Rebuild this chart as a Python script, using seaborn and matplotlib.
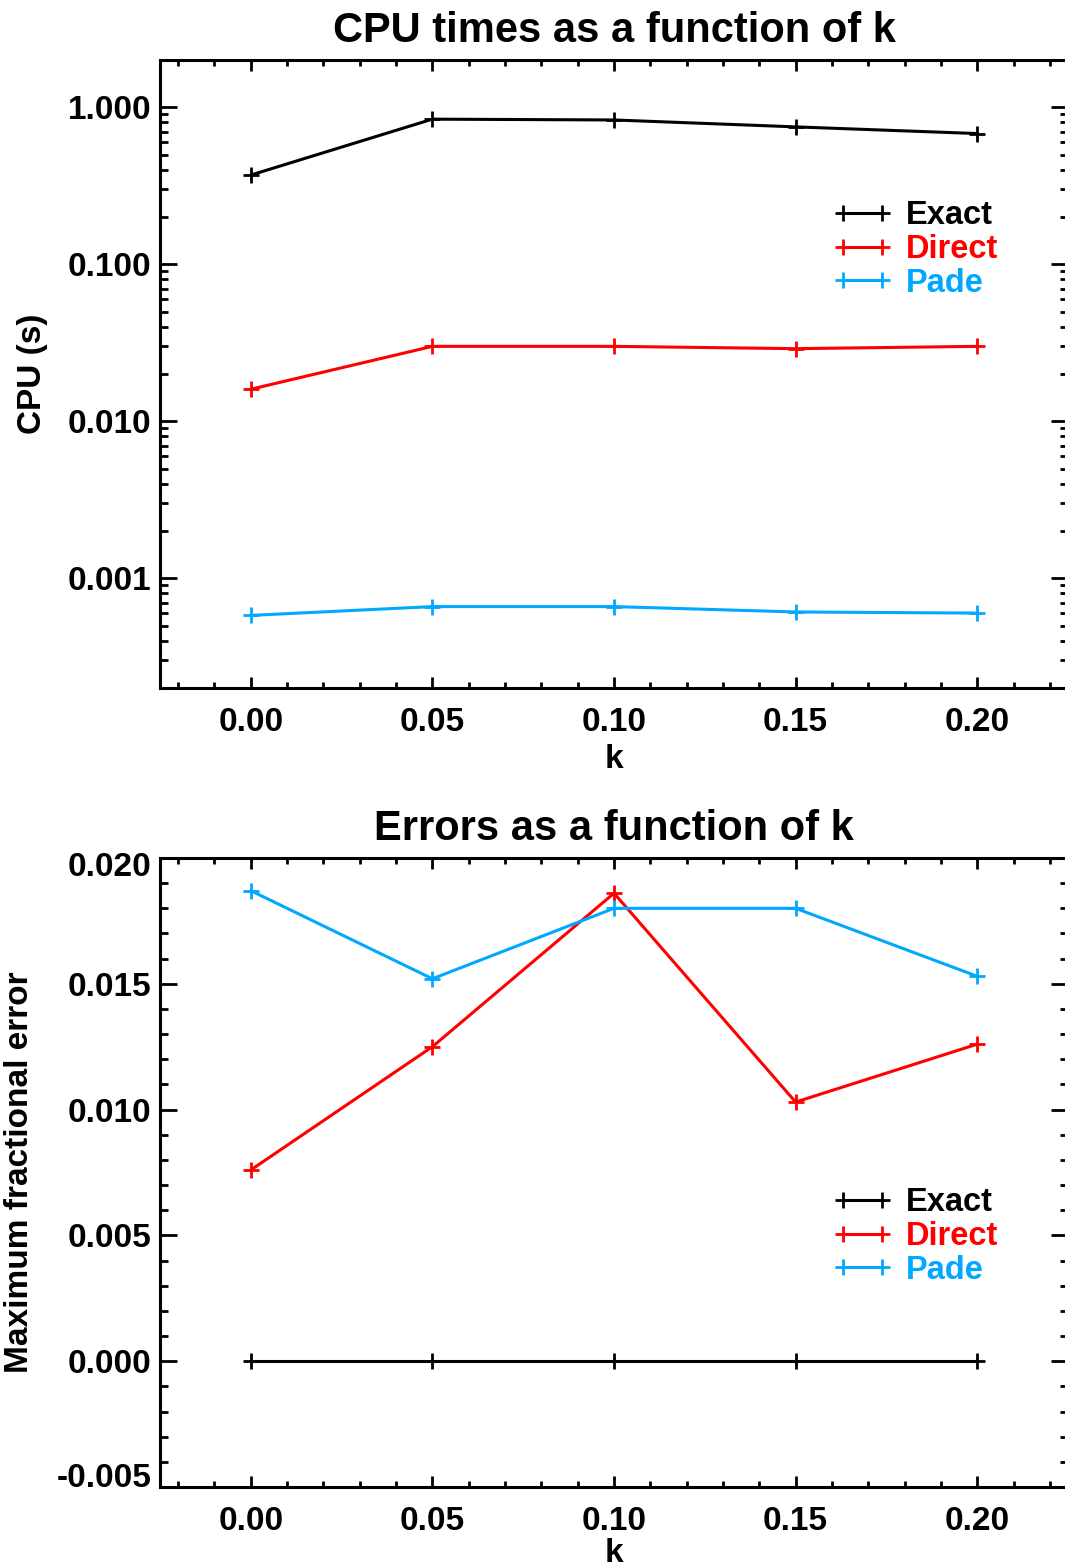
import numpy as np
import pandas as pd
import matplotlib
matplotlib.use("Agg")
import matplotlib.pyplot as plt
import seaborn as sns
from matplotlib.ticker import FixedLocator, FixedFormatter, MultipleLocator, LogLocator, NullFormatter
from matplotlib.transforms import ScaledTranslation

k = [0.00, 0.05, 0.10, 0.15, 0.20]
methods = ["Exact", "Direct", "Pade"]
cpu_exact = [0.37, 0.84, 0.83, 0.75, 0.68]
cpu_direct = [0.016, 0.030, 0.030, 0.029, 0.030]
cpu_pade = [0.00058, 0.00066, 0.00066, 0.00061, 0.00060]
err_exact = [0.0, 0.0, 0.0, 0.0, 0.0]
err_direct = [0.0076, 0.0125, 0.0186, 0.0103, 0.0126]
err_pade = [0.0187, 0.0152, 0.0180, 0.0180, 0.0153]
cpu_ticks = [0.001, 0.01, 0.1, 1.0]
cpu_ticklabels = ["0.001", "0.010", "0.100", "1.000"]
err_ticks = [-0.005, 0.0, 0.005, 0.010, 0.015, 0.020]
err_ticklabels = ["-0.005", "0.000", "0.005", "0.010", "0.015", "0.020"]
k_ticks = [0.00, 0.05, 0.10, 0.15, 0.20]
k_ticklabels = ["0.00", "0.05", "0.10", "0.15", "0.20"]

colors = {"Exact": "#000000", "Direct": "#FF0000", "Pade": "#00A8FF"}

cpu_df = pd.DataFrame({
    "k": k * 3,
    "value": cpu_exact + cpu_direct + cpu_pade,
    "method": [m for m in methods for _ in k],
})
err_df = pd.DataFrame({
    "k": k * 3,
    "value": err_exact + err_direct + err_pade,
    "method": [m for m in methods for _ in k],
})

sns.set_theme(style="white")
plt.rcParams["font.family"] = ["Liberation Sans", "DejaVu Sans"]
plt.rcParams["font.weight"] = "bold"
plt.rcParams["text.color"] = "black"
plt.rcParams["axes.labelcolor"] = "black"

W, H = 1065, 1566
fig = plt.figure(figsize=(W / 100, H / 100), dpi=100)

def frac(left, top, right, bottom):
    return [left / W, 1 - bottom / H, (right - left) / W, (bottom - top) / H]

ax1 = fig.add_axes(frac(160, 60, 1068, 688))
ax2 = fig.add_axes(frac(160, 858, 1068, 1487))

FS = 24
TFS = 30
LFS = 23.5

def style(ax):
    for s in ax.spines.values():
        s.set_linewidth(2.2)
        s.set_color("black")
        s.set_visible(True)
    ax.tick_params(axis="both", which="both", direction="in", top=True, right=True,
                   bottom=True, left=True, colors="black", width=2.0, labelsize=FS)
    ax.tick_params(axis="x", which="major", length=8, pad=14)
    ax.tick_params(axis="x", which="minor", length=4)
    ax.tick_params(axis="y", which="major", length=12.5, pad=6)
    ax.tick_params(axis="y", which="minor", length=6)
    ax.set_xlim(-0.025, 0.225)
    ax.xaxis.set_major_locator(FixedLocator(k_ticks))
    ax.xaxis.set_major_formatter(FixedFormatter(k_ticklabels))
    ax.xaxis.set_minor_locator(MultipleLocator(0.01))
    ax.set_xlabel("k", fontsize=FS, fontweight="bold", color="black")
    for lab in ax.get_xticklabels() + ax.get_yticklabels():
        lab.set_fontweight("bold")
    for ln in ax.lines:
        ln.set_markeredgecolor(ln.get_color())

def legend(ax, loc):
    leg = ax.legend(loc="upper left", bbox_to_anchor=loc, frameon=False, numpoints=2,
                    fontsize=LFS, handlelength=1.8, handletextpad=0.42, labelspacing=0.09,
                    borderpad=0, borderaxespad=0)
    for t, h, m in zip(leg.get_texts(), leg.legend_handles, methods):
        t.set_color(colors[m])
        t.set_fontweight("bold")
        h.set_markeredgecolor(colors[m])
        h.set_color(colors[m])

kw = dict(x="k", y="value", hue="method", hue_order=methods, palette=colors,
          marker="+", markersize=12, markeredgewidth=2.0, linewidth=2.2, dashes=False)

# Top panel
sns.lineplot(data=cpu_df, ax=ax1, **kw)
ax1.set_yscale("log")
ax1.set_ylim(2e-4, 2.0)
ax1.yaxis.set_major_locator(FixedLocator(cpu_ticks))
ax1.yaxis.set_major_formatter(FixedFormatter(cpu_ticklabels))
ax1.yaxis.set_minor_locator(LogLocator(base=10, subs=np.arange(2, 10)))
ax1.yaxis.set_minor_formatter(NullFormatter())
style(ax1)
ax1.set_ylabel("CPU (s)", fontsize=FS, fontweight="bold", color="black")
ax1.set_title("CPU times as a function of k", fontsize=TFS, fontweight="bold", pad=13, color="black")
legend(ax1, ((833 - 160) / 908, 1 - (200 - 60) / 628))
ax1.yaxis.set_label_coords((48 - 160) / 908, 0.5)
ax1.xaxis.set_label_coords(0.5, (688 - 744) / 628)

# Bottom panel
sns.lineplot(data=err_df, ax=ax2, **kw)
ax2.set_ylim(-0.005, 0.020)
ax2.yaxis.set_major_locator(FixedLocator(err_ticks))
ax2.yaxis.set_major_formatter(FixedFormatter(err_ticklabels))
ax2.yaxis.set_minor_locator(MultipleLocator(0.001))
style(ax2)
ax2.set_ylabel("Maximum fractional error", fontsize=FS, fontweight="bold", color="black")
ax2.set_title("Errors as a function of k", fontsize=TFS, fontweight="bold", pad=13, color="black")
legend(ax2, ((833 - 160) / 908, 1 - (1187 - 858) / 629))
ax2.yaxis.set_label_coords((35 - 160) / 908, 0.5)
ax2.xaxis.set_label_coords(0.5, (1487 - 1538) / 629)

ylabs = ax2.get_yticklabels()
ylabs[0].set_va("baseline")
ylabs[-1].set_va("baseline")
ylabs[-1].set_transform(ylabs[-1].get_transform() + ScaledTranslation(0, -18 / 100, fig.dpi_scale_trans))

fig.savefig("out.png", dpi=100)
